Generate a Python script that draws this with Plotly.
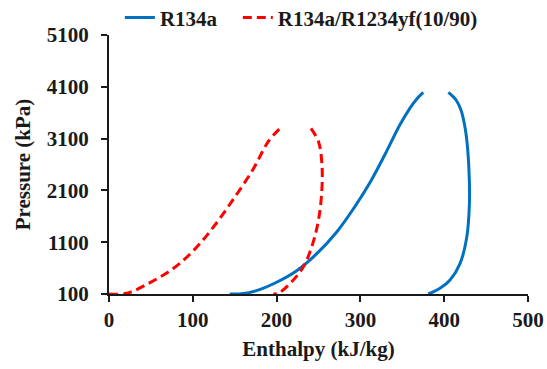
import plotly.graph_objects as go

# R134a saturation dome (enthalpy kJ/kg, pressure kPa)
r134a_liq_h = [144, 158, 176, 200, 224, 248, 272, 292, 312, 331, 347, 359, 368, 375]
r134a_liq_p = [100, 103, 165, 327, 550, 880, 1303, 1754, 2268, 2847, 3362, 3685, 3880, 3994]
r134a_vap_h = [405, 414, 420, 425, 428, 430, 430, 427, 419, 407, 395, 381]
r134a_vap_p = [3994, 3850, 3650, 3300, 2900, 2300, 1800, 1207, 692, 370, 209, 100]

# R134a/R1234yf (10/90)
mix_liq_h = [0, 21, 49, 77, 101, 124, 148, 172, 190, 204]
mix_liq_p = [100, 113, 320, 596, 940, 1380, 1920, 2510, 3040, 3298]
mix_vap_h = [241, 250, 254, 254, 250, 242, 232, 218, 202, 196]
mix_vap_p = [3298, 3040, 2623, 2108, 1529, 1013, 627, 337, 113, 100]

x_ticks = [0, 100, 200, 300, 400, 500]
y_ticks = [100, 1100, 2100, 3100, 4100, 5100]

FONT = "Liberation Serif"
FS = 21
TXT = "#1a1a1a"
blue = "#0070C0"
red = "#FF0000"

fig = go.Figure()
fig.add_trace(go.Scatter(x=r134a_liq_h, y=r134a_liq_p, mode="lines", name="<b>R134a</b>&nbsp;&nbsp;&nbsp;",
                         line=dict(color=blue, width=3, shape="spline", smoothing=1.0), legendgroup="a"))
fig.add_trace(go.Scatter(x=r134a_vap_h, y=r134a_vap_p, mode="lines", name="R134a",
                         line=dict(color=blue, width=3, shape="spline", smoothing=1.0), legendgroup="a", showlegend=False))
fig.add_trace(go.Scatter(x=mix_liq_h, y=mix_liq_p, mode="lines", name="<b>R134a/R1234yf(10/90)</b>",
                         line=dict(color=red, width=3, shape="spline", smoothing=1.0, dash="9px,5px"), legendgroup="b"))
fig.add_trace(go.Scatter(x=mix_vap_h, y=mix_vap_p, mode="lines", name="mix",
                         line=dict(color=red, width=3, shape="spline", smoothing=1.0, dash="9px,5px"), legendgroup="b", showlegend=False))

axis_common = dict(showline=True, linecolor=TXT, linewidth=2, ticks="outside", ticklen=6,
                   tickwidth=2, tickcolor=TXT, showgrid=False, zeroline=False,
                   tickfont=dict(family=FONT, size=FS, color=TXT))

fig.update_layout(
    width=547, height=369,
    margin=dict(l=109, r=19, t=35, b=75, autoexpand=False),
    paper_bgcolor="white", plot_bgcolor="white",
    font=dict(family=FONT, size=FS, color=TXT),
    showlegend=True,
    legend=dict(orientation="h", x=0.026, y=1.066, xanchor="left", yanchor="middle",
                font=dict(family=FONT, size=FS, color=TXT),
                itemwidth=30, bgcolor="rgba(0,0,0,0)"),
    xaxis=dict(range=[0, 500], tickvals=x_ticks, ticktext=[f"<b>{v}</b>" for v in x_ticks],
               automargin=False,
               title=dict(text="<b>Enthalpy (kJ/kg)</b>", font=dict(family=FONT, size=FS), standoff=10),
               **axis_common),
    yaxis=dict(range=[100, 5100], tickvals=y_ticks, ticktext=[f"<b>{v}</b>" for v in y_ticks],
               automargin=False, ticklabelstandoff=8,
               title=dict(text="<b>Pressure (kPa)</b>", font=dict(family=FONT, size=FS), standoff=10),
               **axis_common),
)

fig.write_html("out.html",
               config={"displayModeBar": False, "staticPlot": True},
               post_script="document.body.style.margin='0px';"
                           "document.documentElement.style.overflow='hidden';")
